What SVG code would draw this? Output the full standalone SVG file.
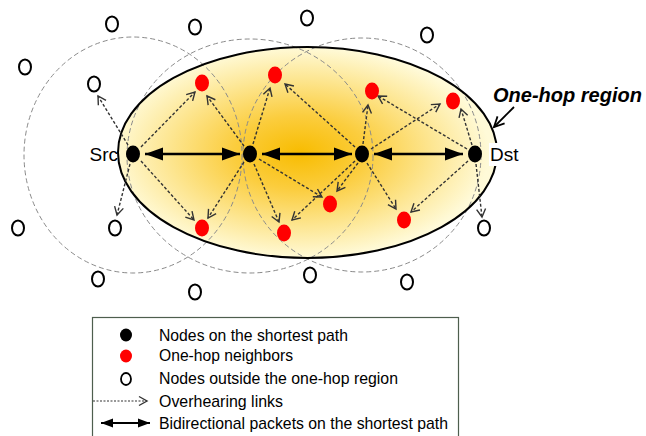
<svg xmlns="http://www.w3.org/2000/svg" width="646" height="436" viewBox="0 0 646 436">
  <style>
    .lbl { font-family: "Liberation Sans", Arial, sans-serif; fill: #000; }
    .range { fill: none; stroke: #8a8a8a; stroke-width: 1; stroke-dasharray: 5 3; }
    .hear { stroke: #333; stroke-width: 1.4; stroke-dasharray: 3 2; fill: none; marker-end: url(#chev); }
    .path { stroke: #000; stroke-width: 2.5; fill: none; marker-start: url(#tri); marker-end: url(#tri); }
    .onpath { fill: #000; }
    .nbr { fill: #f00; }
    .out { fill: #fff; stroke: #000; stroke-width: 2; }
  </style>
  <defs>
    <radialGradient id="glow" cx="0.48" cy="0.5" r="0.5">
      <stop offset="0" stop-color="#F8BC00"/>
      <stop offset="0.35" stop-color="#FBCD3E"/>
      <stop offset="0.7" stop-color="#FDE692"/>
      <stop offset="1" stop-color="#FFFAD8"/>
    </radialGradient>
    <marker id="chev" markerUnits="userSpaceOnUse" markerWidth="12" markerHeight="12" viewBox="-10 -6 12 12" refX="0" refY="0" orient="auto">
      <path d="M-8,-4.5 L0,0 L-8,4.5" fill="none" stroke="#333" stroke-width="1.4"/>
    </marker>
    <marker id="tri" markerUnits="userSpaceOnUse" markerWidth="20" markerHeight="16" viewBox="-19 -8 20 16" refX="0" refY="0" orient="auto-start-reverse">
      <path d="M0,0 L-18,-6.5 L-18,6.5 Z" fill="#000"/>
    </marker>
    <marker id="triS" markerUnits="userSpaceOnUse" markerWidth="14" markerHeight="12" viewBox="-13 -6 14 12" refX="0" refY="0" orient="auto-start-reverse">
      <path d="M0,0 L-12,-4.5 L-12,4.5 Z" fill="#000"/>
    </marker>
    <marker id="open" markerUnits="userSpaceOnUse" markerWidth="14" markerHeight="14" viewBox="-12 -7 14 14" refX="0" refY="0" orient="auto">
      <path d="M-10,-5 L0,0 L-10,5" fill="none" stroke="#000" stroke-width="1.8"/>
    </marker>
  </defs>

  <!-- one-hop region -->
  <g id="region">
    <ellipse cx="307.5" cy="152.5" rx="189.5" ry="105.5" fill="url(#glow)"/>
    <ellipse cx="133" cy="155" rx="109" ry="118" class="range"/>
    <ellipse cx="250" cy="156" rx="123" ry="117" class="range"/>
    <ellipse cx="362" cy="155" rx="119" ry="117" class="range"/>
    <ellipse cx="307.5" cy="152.5" rx="189.5" ry="105.5" fill="none" stroke="#000" stroke-width="2"/>
  </g>

  <!-- connectors -->
  <g id="connectors">
    <line class="hear" x1="128" y1="145" x2="98" y2="96"/>
    <line class="hear" x1="130" y1="164" x2="117" y2="215"/>
    <line class="hear" x1="141" y1="147" x2="195" y2="92"/>
    <line class="hear" x1="141" y1="161" x2="194" y2="220"/>

    <line class="hear" x1="244" y1="146" x2="207" y2="96"/>
    <line class="hear" x1="244" y1="162" x2="208" y2="218"/>
    <line class="hear" x1="253" y1="144" x2="270" y2="88"/>
    <line class="hear" x1="254" y1="164" x2="279" y2="222"/>
    <line class="hear" x1="259" y1="159" x2="322" y2="197"/>

    <line class="hear" x1="355" y1="147" x2="285" y2="84"/>
    <line class="hear" x1="363" y1="144" x2="368" y2="105"/>
    <line class="hear" x1="358" y1="163" x2="337" y2="191"/>
    <line class="hear" x1="355" y1="161" x2="292" y2="220"/>
    <line class="hear" x1="367" y1="163" x2="396" y2="209"/>
    <line class="hear" x1="371" y1="149" x2="440" y2="104"/>

    <line class="hear" x1="467" y1="149" x2="378" y2="96"/>
    <line class="hear" x1="472" y1="145" x2="461" y2="109"/>
    <line class="hear" x1="468" y1="161" x2="411" y2="212"/>
    <line class="hear" x1="476" y1="164" x2="482" y2="217"/>

    <line class="path" x1="145" y1="154" x2="240" y2="154"/>
    <line class="path" x1="262" y1="154" x2="352" y2="154"/>
    <line class="path" x1="374" y1="154" x2="463" y2="154"/>

    <line x1="514" y1="107" x2="494" y2="127" stroke="#000" stroke-width="1.8" marker-end="url(#open)"/>
  </g>

  <!-- nodes on the shortest path -->
  <g id="src"><ellipse class="onpath" cx="133" cy="154" rx="7" ry="8.5"/><text class="lbl" x="118" y="161" font-size="19" text-anchor="end">Src</text></g>
  <g id="n2"><ellipse class="onpath" cx="250" cy="154" rx="7" ry="8.5"/></g>
  <g id="n3"><ellipse class="onpath" cx="362" cy="154" rx="7" ry="8.5"/></g>
  <g id="dst"><ellipse class="onpath" cx="475" cy="154" rx="7" ry="8.5"/><rect x="489" y="143" width="34" height="23" fill="#fff"/><text class="lbl" x="490" y="161" font-size="19">Dst</text></g>

  <!-- one-hop neighbours -->
  <g id="r1"><ellipse class="nbr" cx="202" cy="83" rx="7" ry="8.5"/></g>
  <g id="r2"><ellipse class="nbr" cx="275" cy="75" rx="7" ry="8.5"/></g>
  <g id="r3"><ellipse class="nbr" cx="372" cy="91" rx="7" ry="8.5"/></g>
  <g id="r4"><ellipse class="nbr" cx="453" cy="101" rx="7" ry="8.5"/></g>
  <g id="r5"><ellipse class="nbr" cx="202" cy="228" rx="7" ry="8.5"/></g>
  <g id="r6"><ellipse class="nbr" cx="284" cy="233" rx="7" ry="8.5"/></g>
  <g id="r7"><ellipse class="nbr" cx="330" cy="204" rx="7" ry="8.5"/></g>
  <g id="r8"><ellipse class="nbr" cx="404" cy="220" rx="7" ry="8.5"/></g>

  <!-- nodes outside the region -->
  <g id="o1"><ellipse class="out" cx="112" cy="24" rx="6" ry="7.5"/></g>
  <g id="o2"><ellipse class="out" cx="195" cy="27" rx="6" ry="7.5"/></g>
  <g id="o3"><ellipse class="out" cx="307" cy="18" rx="6" ry="7.5"/></g>
  <g id="o4"><ellipse class="out" cx="427" cy="35" rx="6" ry="7.5"/></g>
  <g id="o5"><ellipse class="out" cx="25" cy="67" rx="6" ry="7.5"/></g>
  <g id="o6"><ellipse class="out" cx="94" cy="84" rx="6" ry="7.5"/></g>
  <g id="o7"><ellipse class="out" cx="18" cy="228" rx="6" ry="7.5"/></g>
  <g id="o8"><ellipse class="out" cx="115" cy="228" rx="6" ry="7.5"/></g>
  <g id="o9"><ellipse class="out" cx="98" cy="279" rx="6" ry="7.5"/></g>
  <g id="o10"><ellipse class="out" cx="195" cy="292" rx="6" ry="7.5"/></g>
  <g id="o11"><ellipse class="out" cx="310" cy="275" rx="6" ry="7.5"/></g>
  <g id="o12"><ellipse class="out" cx="407" cy="282" rx="6" ry="7.5"/></g>
  <g id="o13"><ellipse class="out" cx="484" cy="228" rx="6" ry="7.5"/></g>

  <!-- region label -->
  <g id="region-label">
    <text class="lbl" x="493" y="102" font-size="20" font-weight="bold" font-style="italic">One-hop region</text>
  </g>

  <!-- legend -->
  <g id="legend">
    <rect x="92.5" y="317.5" width="366" height="130" fill="#fff" stroke="#4e5e4e" stroke-width="1.2"/>
    <ellipse cx="126" cy="335" rx="6" ry="6.5" fill="#000"/>
    <ellipse cx="126" cy="356" rx="6" ry="6.5" fill="#f00"/>
    <ellipse cx="126" cy="379" rx="5" ry="6" fill="#fff" stroke="#000" stroke-width="1.8"/>
    <line x1="93" y1="401" x2="147" y2="401" stroke="#333" stroke-width="1.2" stroke-dasharray="2 1.5" marker-end="url(#chev)"/>
    <line x1="101" y1="423" x2="150" y2="423" stroke="#000" stroke-width="2.2" marker-start="url(#triS)" marker-end="url(#triS)"/>
    <text class="lbl" x="159" y="341" font-size="17" textLength="189" lengthAdjust="spacingAndGlyphs">Nodes on the shortest path</text>
    <text class="lbl" x="159" y="361" font-size="17" textLength="134" lengthAdjust="spacingAndGlyphs">One-hop neighbors</text>
    <text class="lbl" x="159" y="384" font-size="17" textLength="239" lengthAdjust="spacingAndGlyphs">Nodes outside the one-hop region</text>
    <text class="lbl" x="159" y="407" font-size="17" textLength="124" lengthAdjust="spacingAndGlyphs">Overhearing links</text>
    <text class="lbl" x="159" y="429" font-size="17" textLength="289" lengthAdjust="spacingAndGlyphs">Bidirectional packets on the shortest path</text>
  </g>
</svg>
